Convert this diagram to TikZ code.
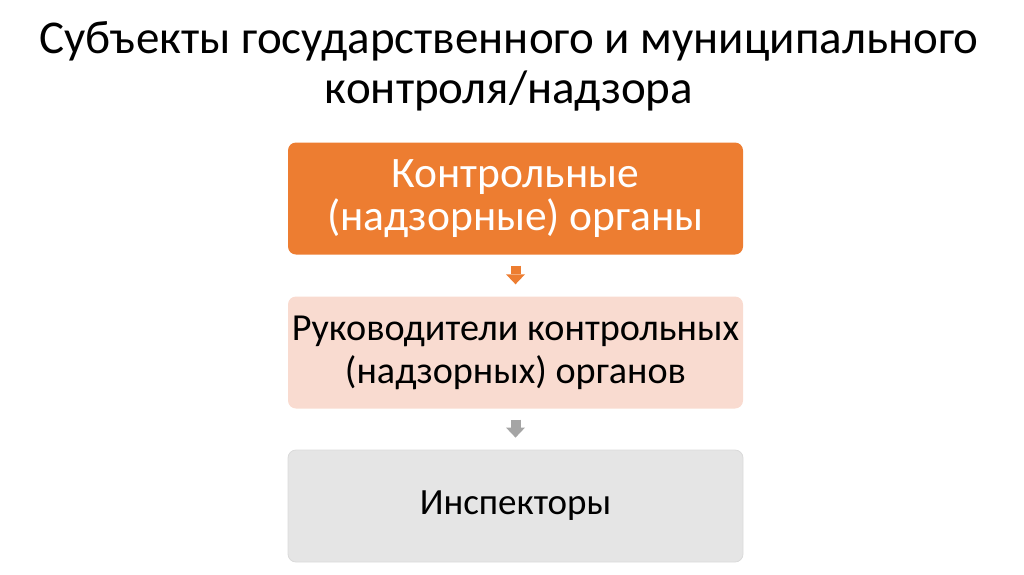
\documentclass[tikz,border=0pt]{standalone}
\usepackage{fontspec}
\setmainfont{Carlito}
\usetikzlibrary{positioning,arrows.meta}
\definecolor{orangeA}{HTML}{ED7D31}
\definecolor{rosaB}{HTML}{F9DBD0}
\definecolor{grauC}{HTML}{E5E5E5}
\definecolor{grauRand}{HTML}{DADADA}
\definecolor{grauPfeil}{HTML}{A5A5A5}
\tikzset{
    kasten/.style={rectangle, rounded corners=8pt, minimum width=455pt,
        minimum height=112pt, inner sep=0pt, align=center},
    blockpfeil/.style={line width=10pt, shorten <=11pt, shorten >=12pt,
        -{Triangle[width=19pt,length=10pt,line width=0pt]}}
}
\begin{document}
\begin{tikzpicture}[x=1pt, y=-1pt]
        \useasboundingbox (0,0) rectangle (1024,574);
        % Titel
        \node[anchor=base, align=center, font=\fontsize{47pt}{50pt}\selectfont]
            (titel) at (509,103) {Субъекты государственного и муниципального\\контроля/надзора};
        % Kaesten
        \node[kasten, fill=orangeA, text=white, font=\fontsize{43.5pt}{43pt}\selectfont]
            (organe) at (515.5,198.5) {Контрольные\\(надзорные) органы};
        \node[kasten, fill=rosaB, font=\fontsize{38.2pt}{43pt}\selectfont]
            (leiter) at (515.5,352.5) {Руководители контрольных\\(надзорных) органов};
        \node[kasten, fill=grauC, draw=grauRand, line width=0.8pt, font=\fontsize{37pt}{43pt}\selectfont]
            (inspektoren) at (515.5,506) {Инспекторы};
        % Pfeile
        \draw[blockpfeil, orangeA] (organe.south) -- (leiter.north);
        \draw[blockpfeil, grauPfeil] (leiter.south) -- (inspektoren.north);
\end{tikzpicture}
\end{document}
